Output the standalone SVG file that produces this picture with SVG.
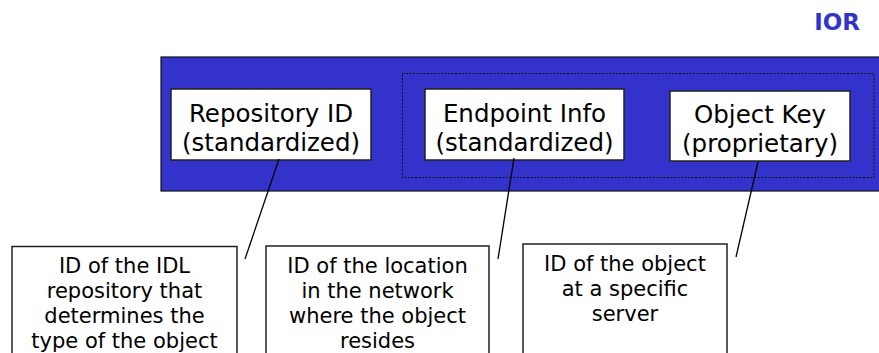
<svg xmlns="http://www.w3.org/2000/svg" width="879" height="353" viewBox="0 0 879 353">
<style>
.box{fill:#ffffff;stroke:#222222;stroke-width:1.5}
.t1{font-family:"DejaVu Sans",Verdana,sans-serif;font-size:24.5px;fill:#000;text-anchor:middle}
.t2{font-family:"DejaVu Sans",Verdana,sans-serif;font-size:21px;fill:#000;text-anchor:middle}
.conn{stroke:#000;stroke-width:1.3;fill:none}
</style>
<rect width="879" height="353" fill="#ffffff"/>
<text x="860" y="30" font-family="DejaVu Sans,Verdana,sans-serif" font-size="23" font-weight="bold" fill="#3333cc" text-anchor="end">IOR</text>
<g id="ior">
<rect x="161" y="57" width="730" height="134" fill="#3333cc" stroke="#111111" stroke-width="1.2"/>
<rect x="402.5" y="73.5" width="471.5" height="104" fill="none" stroke="#111111" stroke-width="1" stroke-dasharray="2,1.5"/>
</g>
<g id="repository-id">
<rect class="box" x="171" y="89" width="200" height="71"/>
<text class="t1" x="271" y="122">Repository ID</text>
<text class="t1" x="271" y="151">(standardized)</text>
</g>
<g id="endpoint-info">
<rect class="box" x="425" y="89" width="199" height="71"/>
<text class="t1" x="524.5" y="122">Endpoint Info</text>
<text class="t1" x="524.5" y="151">(standardized)</text>
</g>
<g id="object-key">
<rect class="box" x="670" y="91" width="180" height="70"/>
<text class="t1" x="760" y="123">Object Key</text>
<text class="t1" x="760" y="152">(proprietary)</text>
</g>
<g id="desc-repository">
<rect class="box" x="12" y="246.5" width="225" height="120"/>
<text class="t2" x="124.5" y="273">ID of the IDL</text>
<text class="t2" x="124.5" y="298">repository that</text>
<text class="t2" x="124.5" y="323">determines the</text>
<text class="t2" x="124.5" y="348">type of the object</text>
</g>
<g id="desc-endpoint">
<rect class="box" x="266" y="246" width="223" height="120"/>
<text class="t2" x="377.5" y="273">ID of the location</text>
<text class="t2" x="377.5" y="298">in the network</text>
<text class="t2" x="377.5" y="323">where the object</text>
<text class="t2" x="377.5" y="348">resides</text>
</g>
<g id="desc-objectkey">
<rect class="box" x="523" y="244" width="204" height="120"/>
<text class="t2" x="625" y="271">ID of the object</text>
<text class="t2" x="625" y="296">at a specific</text>
<text class="t2" x="625" y="321">server</text>
</g>
<g id="connectors">
<line class="conn" x1="279" y1="159" x2="245" y2="259"/>
<line class="conn" x1="514" y1="158" x2="498" y2="259"/>
<line class="conn" x1="758" y1="162" x2="736" y2="257"/>
</g>
</svg>
